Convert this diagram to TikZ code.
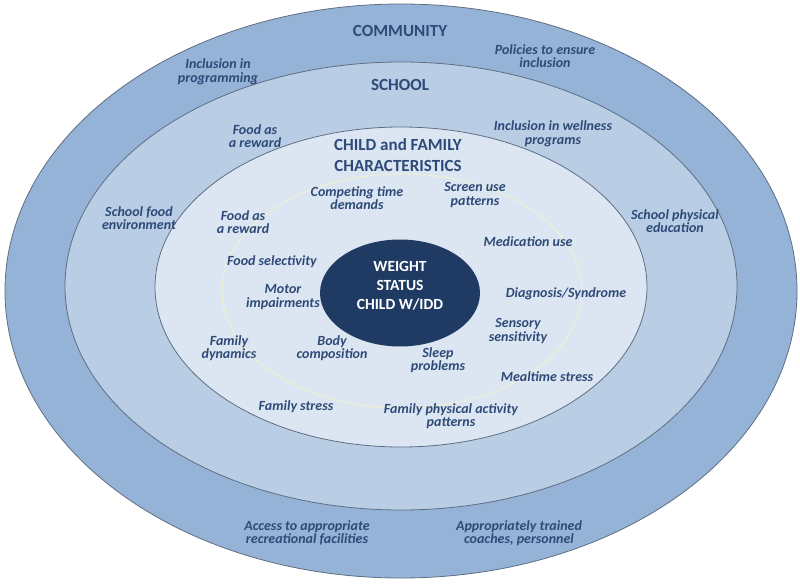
\documentclass[tikz,border=0pt]{standalone}
\usepackage{fontspec}
\setmainfont{Carlito}
\usetikzlibrary{shapes.geometric}
\definecolor{ringA}{HTML}{95B3D7}
\definecolor{ringB}{HTML}{B9CDE5}
\definecolor{ringC}{HTML}{DCE6F2}
\definecolor{coreC}{HTML}{1F3B63}
\definecolor{txtC}{HTML}{2E4A78}
\definecolor{edgeC}{HTML}{5F6E82}
\definecolor{faintC}{HTML}{EEF0D2}
\tikzset{
  lbl/.style={text=txtC, font=\fontsize{14}{13.5}\selectfont\bfseries\itshape, align=center, inner sep=0pt},
  ttl/.style={text=txtC, font=\fontsize{17}{21}\selectfont\bfseries, align=center, inner sep=0pt},
  ring/.style={draw=edgeC, line width=0.8pt}
}
\begin{document}
\begin{tikzpicture}[x=1pt,y=-1pt]
\useasboundingbox (0,0) rectangle (800,584);
\fill[white] (0,0) rectangle (800,584);
\draw[ring, fill=ringA] (401,291) ellipse [x radius=396, y radius=287];
\draw[ring, fill=ringB] (401,286) ellipse [x radius=336, y radius=224];
\draw[ring, fill=ringC] (401,287) ellipse [x radius=246, y radius=160];
\draw[faintC, line width=1pt] (402,291) ellipse [x radius=180, y radius=117];
\node[ellipse, fill=coreC, minimum width=160pt, minimum height=107pt, inner sep=0pt] (core) at (400,293) {};
\node[text=white, font=\fontsize{15.5}{19}\selectfont\bfseries, align=center, inner sep=0pt] (coretext) at (400,286)
  {WEIGHT\\STATUS\\CHILD W/IDD};
% titles
\node[ttl] (community) at (400,31) {COMMUNITY};
\node[ttl] (school) at (400,85) {SCHOOL};
\node[ttl] (child) at (398,155) {CHILD and FAMILY\\CHARACTERISTICS};
% community
\node[lbl] (policies) at (545,56) {Policies to ensure\\inclusion};
\node[lbl] (inclprog) at (218,72) {Inclusion in\\programming};
\node[lbl] (access) at (307,533) {Access to appropriate\\recreational facilities};
\node[lbl] (coaches) at (519,533) {Appropriately trained\\coaches, personnel};
% school
\node[lbl] (foodrewA) at (255,136) {Food as\\a reward};
\node[lbl] (wellness) at (553,134) {Inclusion in wellness\\programs};
\node[lbl] (schoolfood) at (139,218) {School food\\environment};
\node[lbl] (schoolpe) at (675,221) {School physical\\education};
% child and family
\node[lbl] (competing) at (357,198) {Competing time\\demands};
\node[lbl] (screen) at (475,195) {Screen use\\patterns};
\node[lbl] (foodrewB) at (243,222) {Food as\\a reward};
\node[lbl] (medication) at (528,242) {Medication use};
\node[lbl] (selectivity) at (272,262) {Food selectivity};
\node[lbl] (motor) at (283,297) {Motor\\impairments};
\node[lbl] (diagnosis) at (566,294) {Diagnosis/Syndrome};
\node[lbl] (sensory) at (518,331) {Sensory\\sensitivity};
\node[lbl] (dynamics) at (229,348) {Family\\dynamics};
\node[lbl] (body) at (332,348) {Body\\composition};
\node[lbl] (sleep) at (438,360) {Sleep\\problems};
\node[lbl] (mealtime) at (547,377) {Mealtime stress};
\node[lbl] (fstress) at (296,407) {Family stress};
\node[lbl] (fpa) at (451,416) {Family physical activity\\patterns};
\end{tikzpicture}
\end{document}
